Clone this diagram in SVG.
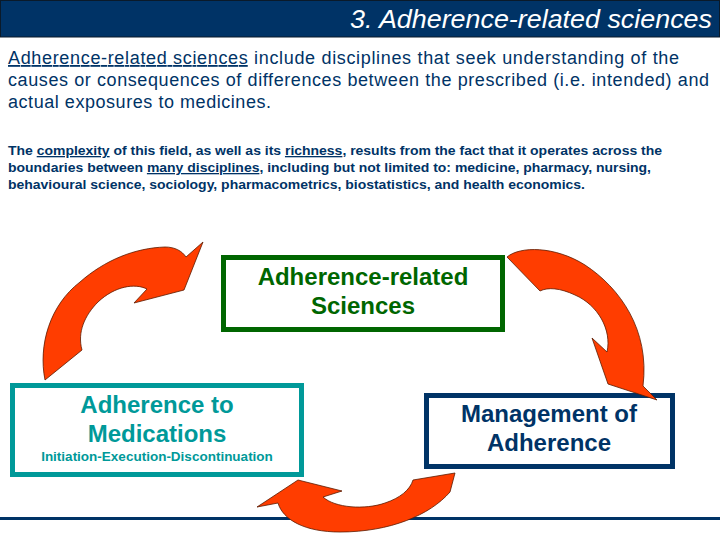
<svg xmlns="http://www.w3.org/2000/svg" width="720" height="540" viewBox="0 0 720 540">
<style>
.para{font-family:"Liberation Sans",Arial,sans-serif;fill:#003366}
.p1{font-size:18px}
.p2{font-size:13px;font-weight:bold}
.u{text-decoration:underline}
.lbl{font-family:"Liberation Sans",Arial,sans-serif;font-weight:bold;font-size:24px;text-anchor:middle}
.arrow{fill:#FF3D00;stroke:#5a1a00;stroke-width:0.8;stroke-linejoin:miter}
</style>
<rect x="0" y="0" width="720" height="540" fill="#ffffff"/>
<g id="header">
<rect x="0.5" y="0.5" width="719" height="36.5" fill="#003366" stroke="#0a1a2a" stroke-width="1"/>
<text x="350" y="28" textLength="362" lengthAdjust="spacingAndGlyphs" font-family="'Liberation Sans',Arial,sans-serif" font-style="italic" font-size="25" fill="#ffffff">3. Adherence-related sciences</text>
</g>
<g id="intro">
<text class="para p1" x="8" y="64" textLength="671" lengthAdjust="spacing"><tspan class="u">Adherence-related sciences</tspan> include disciplines that seek understanding of the</text>
<text class="para p1" x="8" y="86" textLength="701" lengthAdjust="spacing">causes or consequences of differences between the prescribed (i.e. intended) and</text>
<text class="para p1" x="8" y="108" textLength="263" lengthAdjust="spacing">actual exposures to medicines.</text>
<text class="para p2" x="8" y="155" textLength="654" lengthAdjust="spacingAndGlyphs">The <tspan class="u">complexity</tspan> of this field, as well as its <tspan class="u">richness</tspan>, results from the fact that it operates across the</text>
<text class="para p2" x="8" y="172" textLength="643" lengthAdjust="spacingAndGlyphs">boundaries between <tspan class="u">many disciplines</tspan>, including but not limited to: medicine, pharmacy, nursing,</text>
<text class="para p2" x="8" y="189" textLength="577" lengthAdjust="spacingAndGlyphs">behavioural science, sociology, pharmacometrics, biostatistics, and health economics.</text>
</g>
<line x1="0" y1="518.5" x2="720" y2="518.5" stroke="#003366" stroke-width="3"/>
<g id="node-sciences">
<rect x="223.5" y="257.5" width="279" height="72" fill="#ffffff" stroke="#006600" stroke-width="5"/>
<text class="lbl" x="363" y="285" fill="#006600">Adherence-related</text>
<text class="lbl" x="363" y="314" fill="#006600">Sciences</text>
</g>
<g id="node-adherence">
<rect x="12.5" y="385.5" width="289" height="89" fill="#ffffff" stroke="#009999" stroke-width="5"/>
<text class="lbl" x="157" y="413" fill="#009999">Adherence to</text>
<text class="lbl" x="157" y="442" fill="#009999">Medications</text>
<text x="157" y="461" text-anchor="middle" font-family="'Liberation Sans',Arial,sans-serif" font-weight="bold" font-size="13.5" fill="#009999">Initiation-Execution-Discontinuation</text>
</g>
<g id="node-management">
<rect x="426.5" y="395.5" width="246" height="71" fill="#ffffff" stroke="#003366" stroke-width="5"/>
<text class="lbl" x="549" y="422" fill="#003366">Management of</text>
<text class="lbl" x="549" y="451" fill="#003366">Adherence</text>
</g>
<g id="connectors">
<path class="arrow" d="M45,380 C38,345 50,305 80,282 C105,260 135,248 165,247 C175,247 182,251 186,257 L203,242 L184,290 L134,303 L147,289 C135,283 115,286 98,302 C85,315 77,332 82,350 Z"/>
<path class="arrow" d="M507,257 C520,246 555,246 585,265 C620,288 650,330 643,386 L657,400 L608,384 L592,338 L607,352 C612,330 598,305 575,295 C560,288 548,287 540,291 Z"/>
<path class="arrow" d="M455,473 L450,492 C430,515 390,532 340,532 C305,532 283,520 278,503 L257,507 L298,480 L342,491 L323,497 C335,508 365,510 385,503 C400,498 410,490 413,480 Z"/>
</g>
</svg>
